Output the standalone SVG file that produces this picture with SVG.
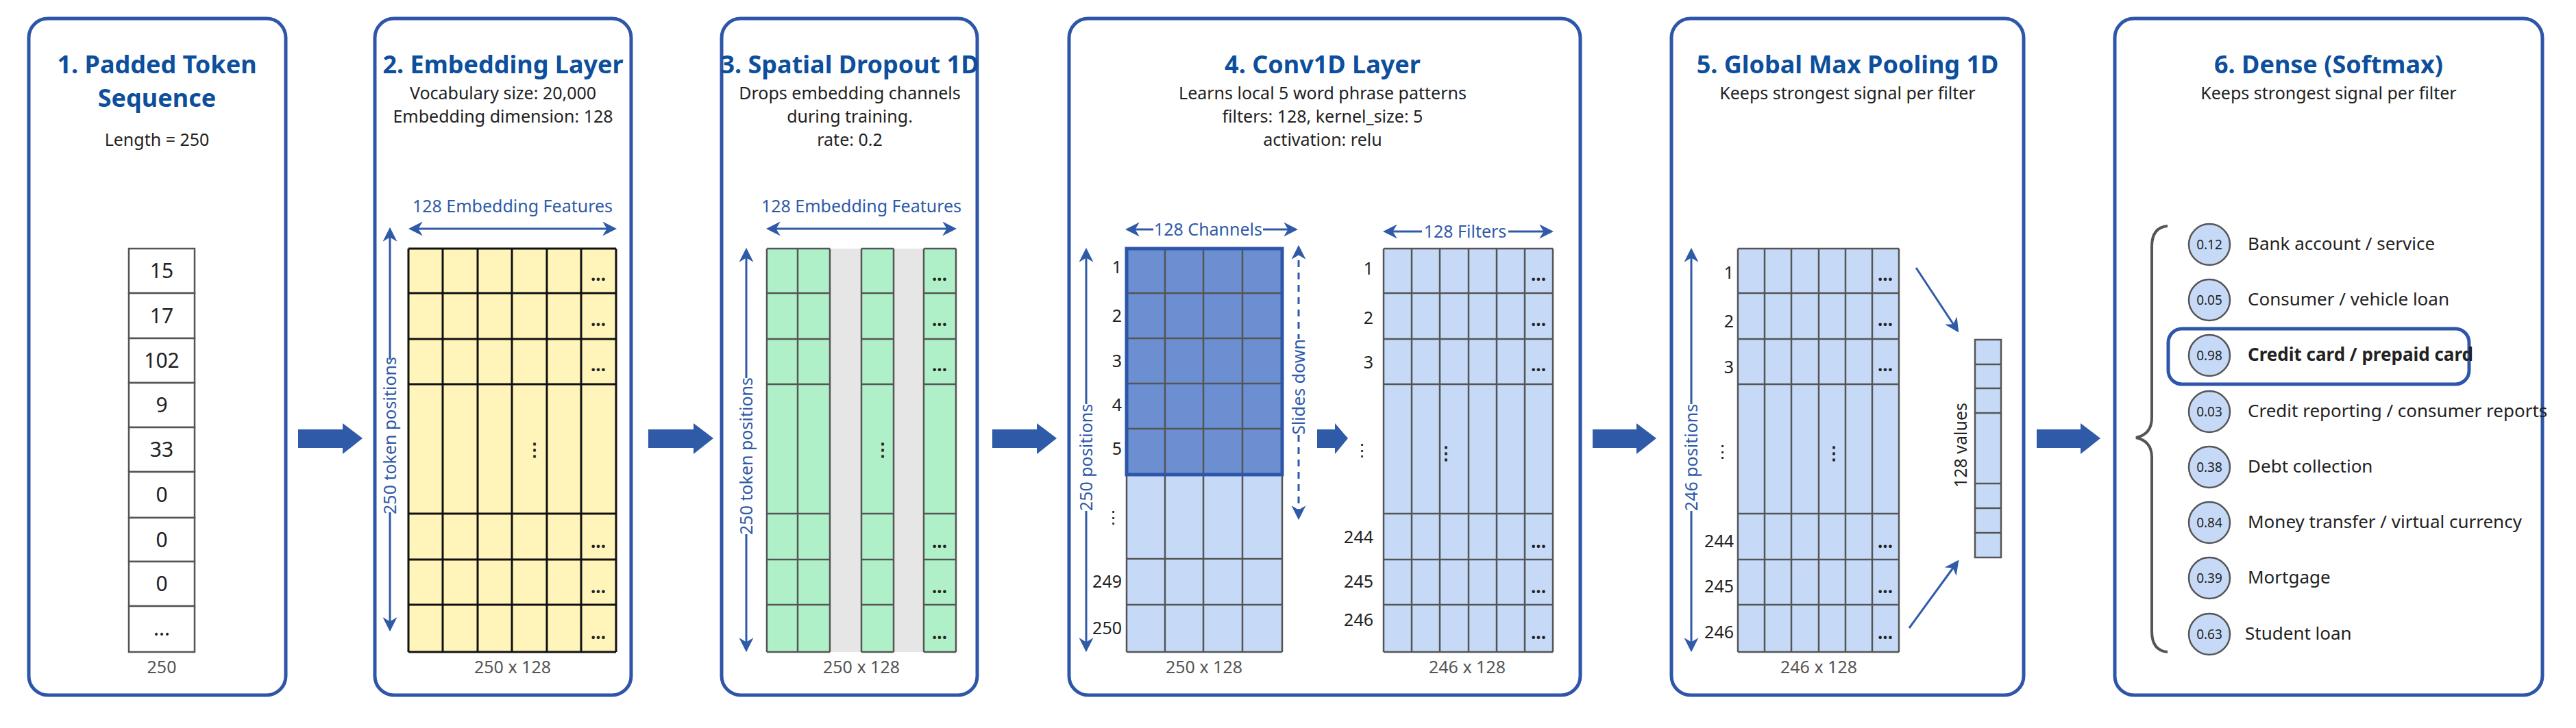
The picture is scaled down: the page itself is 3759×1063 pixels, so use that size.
<svg xmlns="http://www.w3.org/2000/svg" width="3759" height="1063" viewBox="0 0 3759 1063">
<defs>
<marker id="ah" viewBox="0 0 10 10" refX="8" refY="5" markerWidth="5" markerHeight="5" orient="auto-start-reverse"><path d="M0,0 L10,5 L0,10 L3,5 z" fill="#2F5AA8"/></marker>
<marker id="ah2" viewBox="0 0 10 10" refX="8" refY="5" markerWidth="7" markerHeight="7" orient="auto-start-reverse"><path d="M0,0 L10,5 L0,10 L3,5 z" fill="#2F5AA8"/></marker>
</defs>
<style>
text{font-family:"Noto Sans","Liberation Sans",sans-serif;fill:#222}
.box{fill:#fff;stroke:#2E56A8;stroke-width:5}
.title{font-size:36px;font-weight:bold;fill:#0D4F9C;text-anchor:middle}
.sub{font-size:25px;text-anchor:middle}
.dim{font-size:25px;fill:#555;text-anchor:middle}
.blue{font-size:25px;fill:#2F5AA8;text-anchor:middle}
.num{font-size:30px;text-anchor:middle}
.rl{font-size:25px;text-anchor:end}
.dl{stroke:#2F5AA8;stroke-width:3;fill:none}
.big{fill:#2F5AA8}
.gk{stroke:#111;stroke-width:3}
.gg{stroke:#555;stroke-width:2.5}
.dots{font-size:26px;font-weight:bold;text-anchor:middle}
.cls{font-size:26px}
.circ{fill:#C6DAF8;stroke:#555;stroke-width:2.5}
.cv{font-size:19px;text-anchor:middle}
</style>
<rect width="3759" height="1063" fill="#fff"/>

<g id="node1">
<rect class="box" x="42" y="27" width="375" height="988" rx="28"/>
<text class="title" x="229" y="107">1. Padded Token</text>
<text class="title" x="229" y="156">Sequence</text>
<text class="sub" x="229" y="213">Length = 250</text>
<g fill="#fff" stroke="#555" stroke-width="2.5">
<rect x="188" y="363" width="96" height="65"/><rect x="188" y="428" width="96" height="66"/><rect x="188" y="494" width="96" height="65"/><rect x="188" y="559" width="96" height="65"/><rect x="188" y="624" width="96" height="65"/><rect x="188" y="689" width="96" height="67"/><rect x="188" y="756" width="96" height="64"/><rect x="188" y="820" width="96" height="65"/><rect x="188" y="885" width="96" height="67"/>
</g>
<text class="num" x="236" y="406">15</text><text class="num" x="236" y="472">17</text><text class="num" x="236" y="537">102</text><text class="num" x="236" y="602">9</text><text class="num" x="236" y="667">33</text><text class="num" x="236" y="733">0</text><text class="num" x="236" y="799">0</text><text class="num" x="236" y="863">0</text><text class="num" x="236" y="928" font-size="24">...</text>
<text class="dim" x="236" y="983">250</text>
</g>

<g id="node2">
<rect class="box" x="547" y="27" width="374" height="988" rx="28"/>
<text class="title" x="734" y="107">2. Embedding Layer</text>
<text class="sub" x="734" y="145">Vocabulary size: 20,000</text>
<text class="sub" x="734" y="179">Embedding dimension: 128</text>
<text class="blue" x="748" y="310">128 Embedding Features</text>
<rect x="596" y="363" width="303" height="589" fill="#FFF5BA"/>
<g class="gk">
<line x1="596" y1="363" x2="899" y2="363"/><line x1="596" y1="428" x2="899" y2="428"/><line x1="596" y1="495" x2="899" y2="495"/><line x1="596" y1="561" x2="899" y2="561"/><line x1="596" y1="750" x2="899" y2="750"/><line x1="596" y1="817" x2="899" y2="817"/><line x1="596" y1="883" x2="899" y2="883"/><line x1="596" y1="952" x2="899" y2="952"/>
<line x1="596" y1="363" x2="596" y2="952"/><line x1="646" y1="363" x2="646" y2="952"/><line x1="697" y1="363" x2="697" y2="952"/><line x1="747" y1="363" x2="747" y2="952"/><line x1="798" y1="363" x2="798" y2="952"/><line x1="848" y1="363" x2="848" y2="952"/><line x1="899" y1="363" x2="899" y2="952"/>
</g>
<g class="dots"><text x="873" y="410">...</text><text x="873" y="476">...</text><text x="873" y="542">...</text><text x="873" y="800">...</text><text x="873" y="866">...</text><text x="873" y="933">...</text></g>
<text class="dots" x="780" y="666" font-size="24">⋮</text>
<text class="dim" x="748" y="983">250 x 128</text>
</g>

<g id="node3">
<rect class="box" x="1053" y="27" width="373" height="988" rx="28"/>
<text class="title" x="1240" y="107">3. Spatial Dropout 1D</text>
<text class="sub" x="1240" y="145">Drops embedding channels</text>
<text class="sub" x="1240" y="179">during training.</text>
<text class="sub" x="1240" y="213">rate: 0.2</text>
<text class="blue" x="1257" y="310">128 Embedding Features</text>
<rect x="1119" y="363" width="276" height="589" fill="#E6E6E6"/>
<rect x="1119" y="363" width="92" height="589" fill="#B0F0C8"/>
<rect x="1257" y="363" width="47" height="589" fill="#B0F0C8"/>
<rect x="1348" y="363" width="47" height="589" fill="#B0F0C8"/>
<g class="gg">
<path d="M1119,363H1211M1119,428H1211M1119,495H1211M1119,561H1211M1119,750H1211M1119,817H1211M1119,883H1211M1119,952H1211"/>
<path d="M1257,363H1304M1257,428H1304M1257,495H1304M1257,561H1304M1257,750H1304M1257,817H1304M1257,883H1304M1257,952H1304"/>
<path d="M1348,363H1395M1348,428H1395M1348,495H1395M1348,561H1395M1348,750H1395M1348,817H1395M1348,883H1395M1348,952H1395"/>
<path d="M1119,363V952M1164,363V952M1211,363V952M1257,363V952M1304,363V952M1348,363V952M1395,363V952" fill="none"/>
</g>
<g class="dots" font-size="22"><text x="1371" y="410">...</text><text x="1371" y="476">...</text><text x="1371" y="542">...</text><text x="1371" y="800">...</text><text x="1371" y="866">...</text><text x="1371" y="933">...</text></g>
<text class="dots" x="1288" y="666" font-size="24">⋮</text>
<text class="dim" x="1257" y="983">250 x 128</text>
</g>

<g id="node4">
<rect class="box" x="1560" y="27" width="746" height="988" rx="28"/>
<text class="title" x="1930" y="107">4. Conv1D Layer</text>
<text class="sub" x="1930" y="145">Learns local 5 word phrase patterns</text>
<text class="sub" x="1930" y="179">filters: 128, kernel_size: 5</text>
<text class="sub" x="1930" y="213">activation: relu</text>
<text class="blue" x="1763" y="344">128 Channels</text>
<rect x="1644" y="363" width="227" height="589" fill="#C6DAF8"/>
<rect x="1644" y="363" width="227" height="330" fill="#6B8FD0"/>
<g class="gg">
<path d="M1644,428H1871M1644,494H1871M1644,560H1871M1644,626H1871M1644,816H1871M1644,883H1871M1644,952H1871"/>
<path d="M1644,363V952M1700,363V952M1756,363V952M1813,363V952M1871,363V952"/>
</g>
<rect x="1644" y="363" width="227" height="330" fill="none" stroke="#2E56A8" stroke-width="5"/>
<g class="rl"><text x="1637" y="399">1</text><text x="1637" y="470">2</text><text x="1637" y="536">3</text><text x="1637" y="600">4</text><text x="1637" y="664">5</text><text x="1637" y="764">⋮</text><text x="1637" y="858">249</text><text x="1637" y="926">250</text></g>
<text class="dim" x="1757" y="983">250 x 128</text>
<text class="blue" x="2138" y="347">128 Filters</text>
<rect x="2019" y="363" width="247" height="589" fill="#C6DAF8"/>
<g class="gg">
<path d="M2019,363H2266M2019,428H2266M2019,495H2266M2019,561H2266M2019,750H2266M2019,817H2266M2019,883H2266M2019,952H2266"/>
<path d="M2019,363V952M2060,363V952M2101,363V952M2143,363V952M2184,363V952M2225,363V952M2266,363V952"/>
</g>
<g class="dots" font-size="22"><text x="2245" y="410">...</text><text x="2245" y="476">...</text><text x="2245" y="542">...</text><text x="2245" y="800">...</text><text x="2245" y="866">...</text><text x="2245" y="933">...</text></g>
<text class="dots" x="2110" y="671" font-size="24">⋮</text>
<g class="rl"><text x="2004" y="401">1</text><text x="2004" y="473">2</text><text x="2004" y="538">3</text><text x="2000" y="666">⋮</text><text x="2004" y="793">244</text><text x="2004" y="858">245</text><text x="2004" y="914">246</text></g>
<text class="dim" x="2141" y="983">246 x 128</text>
<text class="blue" transform="translate(1904,565) rotate(-90)">Slides down</text>
</g>

<g id="node5">
<rect class="box" x="2439" y="27" width="514" height="988" rx="28"/>
<text class="title" x="2696" y="107">5. Global Max Pooling 1D</text>
<text class="sub" x="2696" y="145">Keeps strongest signal per filter</text>
<rect x="2536" y="363" width="235" height="589" fill="#C6DAF8"/>
<g class="gg">
<path d="M2536,363H2771M2536,428H2771M2536,495H2771M2536,561H2771M2536,750H2771M2536,817H2771M2536,883H2771M2536,952H2771"/>
<path d="M2536,363V952M2575,363V952M2614,363V952M2654,363V952M2693,363V952M2732,363V952M2771,363V952"/>
</g>
<g class="dots" font-size="22"><text x="2751" y="410">...</text><text x="2751" y="476">...</text><text x="2751" y="542">...</text><text x="2751" y="800">...</text><text x="2751" y="866">...</text><text x="2751" y="933">...</text></g>
<text class="dots" x="2676" y="671" font-size="24">⋮</text>
<g class="rl"><text x="2530" y="407">1</text><text x="2530" y="478">2</text><text x="2530" y="545">3</text><text x="2526" y="668">⋮</text><text x="2530" y="799">244</text><text x="2530" y="865">245</text><text x="2530" y="932">246</text></g>
<text class="dim" x="2654" y="983">246 x 128</text>
<rect x="2882" y="496" width="38" height="318" fill="#C6DAF8"/>
<path class="gg" fill="none" d="M2882,496H2920V814H2882ZM2882,532H2920M2882,567H2920M2882,603H2920M2882,706H2920M2882,742H2920M2882,778H2920"/>
<text x="0" y="0" font-size="25" text-anchor="middle" transform="translate(2870,650) rotate(-90)">128 values</text>
</g>

<g id="node6">
<rect class="box" x="3086" y="27" width="624" height="988" rx="28"/>
<text class="title" x="3398" y="107">6. Dense (Softmax)</text>
<text class="sub" x="3398" y="145">Keeps strongest signal per filter</text>
<path d="M3163,330 Q3140,332 3140,360 L3140,610 Q3140,634 3117,639 Q3140,644 3140,668 L3140,922 Q3140,950 3163,952" fill="none" stroke="#555" stroke-width="4"/>
<rect x="3164" y="480" width="439" height="81" rx="20" fill="none" stroke="#2E56A8" stroke-width="5"/>
<g>
<circle class="circ" cx="3224" cy="357" r="30"/><text class="cv" x="3224" y="364">0.12</text><text class="cls" x="3280" y="365">Bank account / service</text>
<circle class="circ" cx="3224" cy="438" r="30"/><text class="cv" x="3224" y="445">0.05</text><text class="cls" x="3280" y="446">Consumer / vehicle loan</text>
<circle class="circ" cx="3224" cy="519" r="30"/><text class="cv" x="3224" y="526">0.98</text><text class="cls" x="3280" y="527" font-weight="bold" fill="#F06060">Credit card / prepaid card</text>
<circle class="circ" cx="3224" cy="601" r="30"/><text class="cv" x="3224" y="608">0.03</text><text class="cls" x="3280" y="609">Credit reporting / consumer reports</text>
<circle class="circ" cx="3224" cy="682" r="30"/><text class="cv" x="3224" y="689">0.38</text><text class="cls" x="3280" y="690">Debt collection</text>
<circle class="circ" cx="3224" cy="763" r="30"/><text class="cv" x="3224" y="770">0.84</text><text class="cls" x="3280" y="771">Money transfer / virtual currency</text>
<circle class="circ" cx="3224" cy="844" r="30"/><text class="cv" x="3224" y="851">0.39</text><text class="cls" x="3280" y="852">Mortgage</text>
<circle class="circ" cx="3224" cy="926" r="30"/><text class="cv" x="3224" y="933">0.63</text><text class="cls" x="3276" y="934">Student loan</text>
</g>
</g>

<g id="connectors">
<polygon class="big" points="435,627 500,627 500,618 529,640 500,663 500,654 435,654"/>
<polygon class="big" points="946,627 1012,627 1012,618 1041,640 1012,663 1012,654 946,654"/>
<polygon class="big" points="1448,627 1513,627 1513,618 1542,640 1513,663 1513,654 1448,654"/>
<polygon class="big" points="1922,627 1948,627 1948,618 1967,640 1948,663 1948,654 1922,654"/>
<polygon class="big" points="2324,627 2388,627 2388,618 2417,640 2388,663 2388,654 2324,654"/>
<polygon class="big" points="2972,627 3036,627 3036,618 3065,640 3036,663 3036,654 2972,654"/>
<line class="dl" x1="600" y1="334" x2="896" y2="334" marker-start="url(#ah2)" marker-end="url(#ah2)"/>
<line class="dl" x1="1122" y1="334" x2="1392" y2="334" marker-start="url(#ah2)" marker-end="url(#ah2)"/>
<path class="dl" d="M569,336V525M569,748V918" marker-start="url(#ah2)" marker-end="url(#ah2)"/>
<text class="blue" transform="translate(578,636) rotate(-90)">250 token positions</text>
<path class="dl" d="M1089,366V552M1089,780V948" marker-start="url(#ah2)" marker-end="url(#ah2)"/>
<text class="blue" transform="translate(1098,666) rotate(-90)">250 token positions</text>
<path class="dl" d="M1585,366V590M1585,746V948" marker-start="url(#ah2)" marker-end="url(#ah2)"/>
<text class="blue" transform="translate(1594,668) rotate(-90)">250 positions</text>
<path class="dl" d="M2468,366V590M2468,746V948" marker-start="url(#ah2)" marker-end="url(#ah2)"/>
<text class="blue" transform="translate(2477,668) rotate(-90)">246 positions</text>
<path class="dl" d="M1646,335H1683M1843,335H1890" marker-start="url(#ah2)" marker-end="url(#ah2)"/>
<path class="dl" d="M2022,338H2075M2201,338H2263" marker-start="url(#ah2)" marker-end="url(#ah2)"/>
<path class="dl" stroke-dasharray="10,8" d="M1895,362V495M1895,635V755" marker-start="url(#ah2)" marker-end="url(#ah2)"/>
<line class="dl" stroke-width="2.5" x1="2796" y1="391" x2="2856" y2="482" marker-end="url(#ah2)"/>
<line class="dl" stroke-width="2.5" x1="2786" y1="917" x2="2856" y2="821" marker-end="url(#ah2)"/>
</g>
</svg>
